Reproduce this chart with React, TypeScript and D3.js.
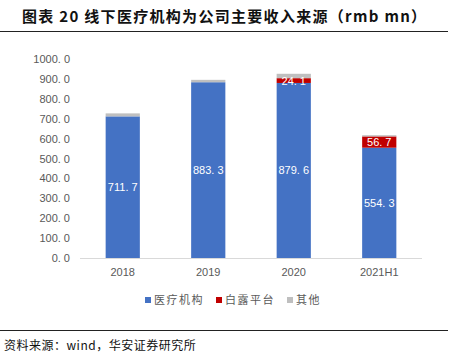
import React from "react";
import * as d3 from "d3";

const categories = ["2018", "2019", "2020", "2021H1"];
const seriesNames = ["医疗机构", "白露平台", "其他"];
const medical = [711.7, 883.3, 879.6, 554.3];
const bailu = [0, 0, 24.1, 56.7];
const other = [15, 12, 22, 6];
const yTicks = [0, 100, 200, 300, 400, 500, 600, 700, 800, 900, 1000];
const colors = ["#4472C4", "#C00000", "#BFBFBF"];

const fmt = (v: number) => d3.format(".1f")(v).replace(".", ". ");

export default function App() {
  const W = 450, H = 363;
  const left = 80, right = 422, top = 59, bottom = 258;
  const x = d3.scaleBand().domain(categories).range([left, right]).paddingInner(0.6).paddingOuter(0.3);
  const y = d3.scaleLinear().domain([0, 1000]).range([bottom, top]);
  const rows = categories.map((c, i) => ({ c, values: [medical[i], bailu[i], other[i]] }));
  const stack = rows.map((r) => {
    let acc = 0;
    return r.values.map((v, k) => {
      const s = { y0: acc, y1: acc + v, v, k };
      acc += v;
      return s;
    });
  });
  const font = "'Noto Sans CJK SC', sans-serif";
  return (
    <svg width={W} height={H} style={{ position: "absolute", left: 0, top: 0, background: "#fff" }}>
      <text x={22} y={22} fontFamily={font} fontSize={15} fontWeight="bold" fill="#111" letterSpacing={1.3}>
        图表 20 线下医疗机构为公司主要收入来源（rmb mn）
      </text>
      <line x1={0} x2={448} y1={31.5} y2={31.5} stroke="#222" strokeWidth={1} />
      {yTicks.map((t) => (
        <text key={t} x={70} y={y(t) + 4} textAnchor="end" fontFamily="Liberation Sans, Arial, sans-serif" fontSize={11} fill="#595959">
          {fmt(t)}
        </text>
      ))}
      <line x1={left} x2={right} y1={bottom + 0.5} y2={bottom + 0.5} stroke="#D9D9D9" />
      {rows.map((r, i) =>
        stack[i].map((s) =>
          s.v > 0 ? (
            <rect key={r.c + s.k} x={x(r.c)!} width={x.bandwidth()} y={y(s.y1)} height={y(s.y0) - y(s.y1)} fill={colors[s.k]} />
          ) : null
        )
      )}
      {rows.map((r, i) =>
        stack[i].slice(0, 2).map((s) =>
          s.v > 0 ? (
            <text key={"l" + r.c + s.k} x={x(r.c)! + x.bandwidth() / 2} y={(y(s.y0) + y(s.y1)) / 2 + 4} textAnchor="middle"
              fontFamily="Liberation Sans, Arial, sans-serif" fontSize={11} fill="#fff">
              {fmt(s.v)}
            </text>
          ) : null
        )
      )}
      {categories.map((c) => (
        <text key={c} x={x(c)! + x.bandwidth() / 2} y={276} textAnchor="middle" fontFamily="Liberation Sans, Arial, sans-serif" fontSize={11} fill="#595959">
          {c}
        </text>
      ))}
      {seriesNames.map((n, k) => {
        const lx = 145 + k * 71;
        return (
          <g key={n}>
            <rect x={lx} y={297} width={6} height={6} fill={colors[k]} />
            <text x={lx + 9} y={304} fontFamily={font} fontSize={11} fill="#595959" letterSpacing={1.5}>{n}</text>
          </g>
        );
      })}
      <line x1={0} x2={448} y1={330.5} y2={330.5} stroke="#222" strokeWidth={1} />
      <text x={4} y={350} fontFamily={font} fontSize={12} fill="#111" letterSpacing={0.5}>资料来源：wind，华安证券研究所</text>
    </svg>
  );
}
